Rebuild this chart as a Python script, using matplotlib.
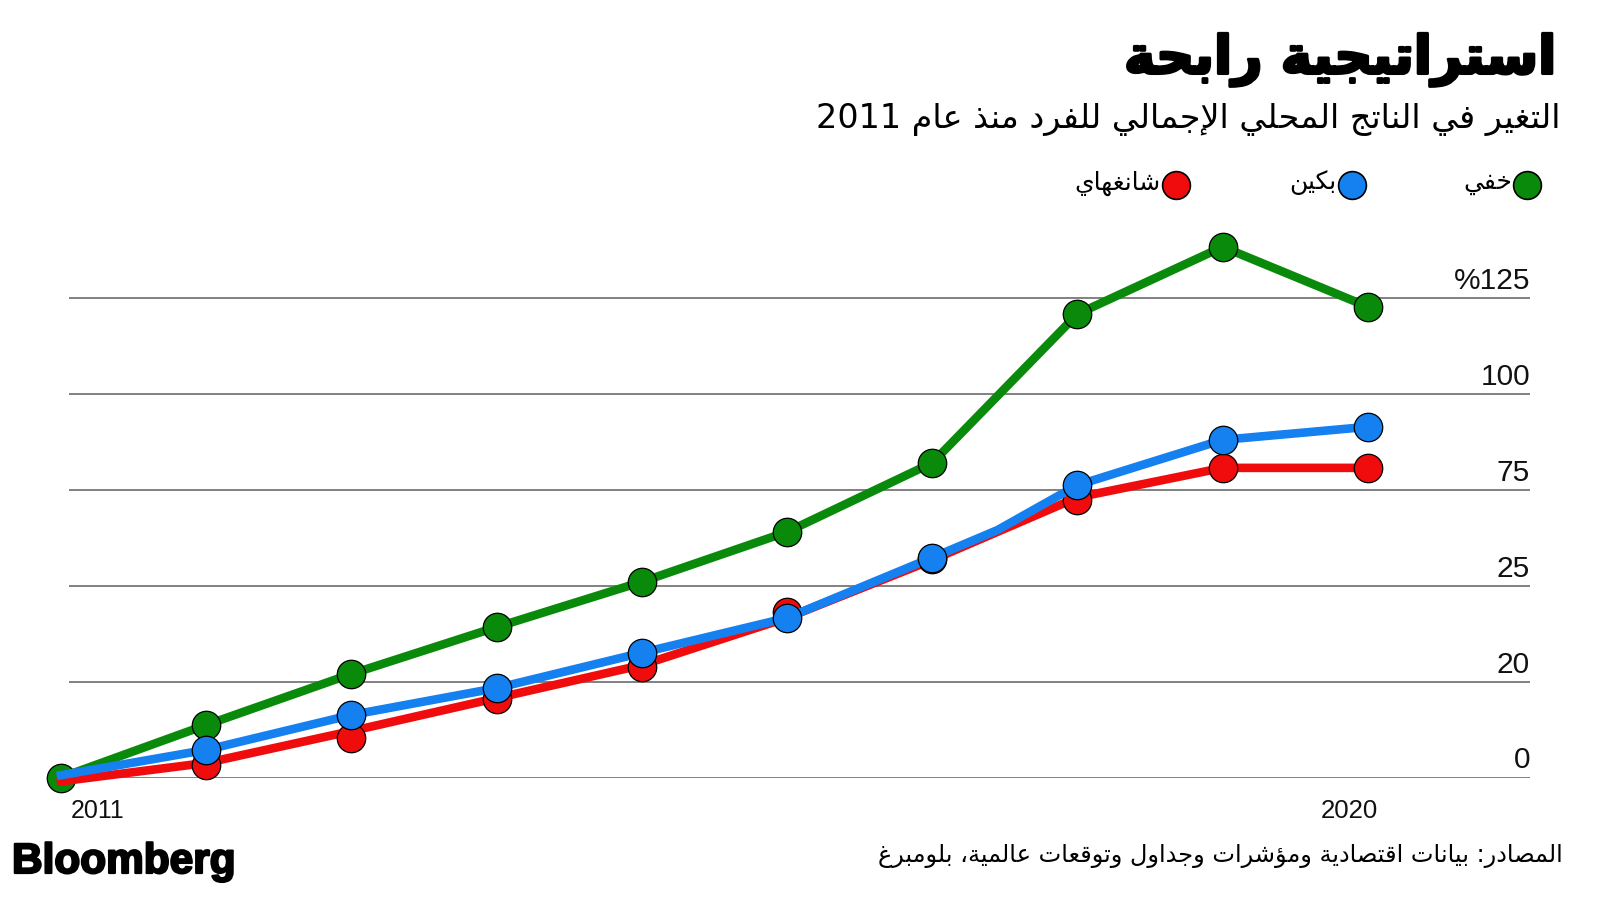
import matplotlib
matplotlib.use("Agg")
import matplotlib.pyplot as plt
import matplotlib.patheffects as pe
from matplotlib.lines import Line2D
from matplotlib.transforms import offset_copy

# data (percent change since 2011)
years = [2011, 2012, 2013, 2014, 2015, 2016, 2017, 2018, 2019, 2020]
hefei = [0, 13.7, 27.0, 39.2, 51.0, 64.0, 82.0, 120.8, 138.3, 122.7]

beijing_line_x = [2011, 2012, 2013, 2014, 2015, 2016, 2017, 2017.45, 2018, 2019, 2020]
beijing_line = [0.6, 7.2, 16.3, 23.3, 32.5, 41.6, 57.3, 64.5, 76.2, 88.0, 91.4]
beijing_dot_x = years[1:]
beijing_dots = [7.2, 16.3, 23.3, 32.5, 41.6, 57.3, 76.2, 88.0, 91.4]

shanghai_line = [-1.0, 3.8, 12.1, 20.7, 29.3, 41.6, 56.7, 73.0, 80.7, 80.7]
shanghai_dot_x = years[1:]
shanghai_dots = [3.3, 10.3, 20.5, 28.8, 43.1, 57.0, 72.3, 80.7, 80.7]

y_ticks = [0, 25, 50, 75, 100, 125]
y_labels = ["0", "20", "25", "75", "100", "%125"]
x_labels = ["2011", "2020"]

title = "استراتيجية رابحة"
subtitle = "التغير في الناتج المحلي الإجمالي للفرد منذ عام 2011"
source = "المصادر: بيانات اقتصادية ومؤشرات وجداول وتوقعات عالمية، بلومبرغ"
legend_labels = ["خفي", "بكين", "شانغهاي"]

GREEN = "#0a8a0a"
BLUE = "#1580f0"
RED = "#f00c0c"


# matplotlib does no arabic shaping, so pick presentation forms by hand
FORMS = {'ء': (0xFE80, 1), 'آ': (0xFE81, 2), 'أ': (0xFE83, 2), 'ؤ': (0xFE85, 2),
         'إ': (0xFE87, 2), 'ئ': (0xFE89, 4), 'ا': (0xFE8D, 2), 'ب': (0xFE8F, 4),
         'ة': (0xFE93, 2), 'ت': (0xFE95, 4), 'ث': (0xFE99, 4), 'ج': (0xFE9D, 4),
         'ح': (0xFEA1, 4), 'خ': (0xFEA5, 4), 'د': (0xFEA9, 2), 'ذ': (0xFEAB, 2),
         'ر': (0xFEAD, 2), 'ز': (0xFEAF, 2), 'س': (0xFEB1, 4), 'ش': (0xFEB5, 4),
         'ص': (0xFEB9, 4), 'ض': (0xFEBD, 4), 'ط': (0xFEC1, 4), 'ظ': (0xFEC5, 4),
         'ع': (0xFEC9, 4), 'غ': (0xFECD, 4), 'ف': (0xFED1, 4), 'ق': (0xFED5, 4),
         'ك': (0xFED9, 4), 'ل': (0xFEDD, 4), 'م': (0xFEE1, 4), 'ن': (0xFEE5, 4),
         'ه': (0xFEE9, 4), 'و': (0xFEED, 2), 'ى': (0xFEEF, 2), 'ي': (0xFEF1, 4)}
LAM_ALEF = {'آ': 0xFEF5, 'أ': 0xFEF7, 'إ': 0xFEF9, 'ا': 0xFEFB}


def shape_word(word):
    items = []
    i = 0
    while i < len(word):
        if word[i] == 'ل' and i + 1 < len(word) and word[i + 1] in LAM_ALEF:
            items.append(('LA', word[i + 1]))
            i += 2
        else:
            items.append((word[i], None))
            i += 1

    def joins_prev(it):
        return it[0] == 'LA' or (it[0] in FORMS and FORMS[it[0]][1] > 1)

    def joins_next(it):
        return it[0] in FORMS and FORMS[it[0]][1] == 4

    out = ""
    for k, it in enumerate(items):
        prev_ok = k > 0 and joins_next(items[k - 1]) and joins_prev(it)
        next_ok = k + 1 < len(items) and joins_next(it) and joins_prev(items[k + 1])
        if it[0] == 'LA':
            out += chr(LAM_ALEF[it[1]] + (1 if prev_ok else 0))
        elif it[0] in FORMS:
            base = FORMS[it[0]][0]
            if prev_ok and next_ok:
                out += chr(base + 3)
            elif prev_ok:
                out += chr(base + 1)
            elif next_ok:
                out += chr(base + 2)
            else:
                out += chr(base)
        else:
            out += it[0]
    return out


def ar(text):
    words = []
    for w in text.split(" ")[::-1]:
        if any(c in FORMS for c in w):
            words.append(shape_word(w)[::-1])
        else:
            words.append(w)
    return " ".join(words)


AR_FONT = ["DejaVu Sans"]
NUM_FONT = ["Liberation Sans", "DejaVu Sans"]

fig = plt.figure(figsize=(16, 9), dpi=100)
W, H = 1600, 900
ax = fig.add_axes([69 / W, 1 - 777.5 / H, 1461 / W, (777.5 - 230) / H])
ax.set_xlim(2011.055, 2021.117)
ax.set_ylim(0, 142.7)

ax.set_yticks(y_ticks)
ax.grid(axis="y", color="#777777", lw=1.3)
ax.set_axisbelow(True)
ax.set_xticks([])
ax.tick_params(axis="y", length=0, labelleft=False)
for s in ax.spines.values():
    s.set_visible(False)

mk = dict(marker="o", ms=20.5, mec="black", mew=0.9, ls="none", clip_on=False)
ax.plot(years, hefei, color=GREEN, lw=6.2, solid_joinstyle="round", clip_on=False, zorder=3)
ax.plot(years, hefei, color=GREEN, zorder=4, **mk)
ax.plot(years, shanghai_line, color=RED, lw=6.2, solid_joinstyle="round", clip_on=False, zorder=5)
ax.plot(shanghai_dot_x, shanghai_dots, color=RED, zorder=6, **mk)
ax.plot(beijing_line_x, beijing_line, color=BLUE, lw=6.2, solid_joinstyle="round", clip_on=False, zorder=7)
ax.plot(beijing_dot_x, beijing_dots, color=BLUE, zorder=8, **mk)

# value labels sit just above their gridlines, at the right end
ytrans = offset_copy(ax.get_yaxis_transform(), fig=fig, x=0, y=9, units="dots")
for v, lab in zip(y_ticks, y_labels):
    ax.text(1.0, v, lab, transform=ytrans, ha="right", va="baseline",
            fontsize=21.5, family=NUM_FONT, color="#111111")

xt_left = offset_copy(ax.get_xaxis_transform(), fig=fig, x=10, y=-40, units="dots")
xt_right = offset_copy(ax.get_xaxis_transform(), fig=fig, x=-18, y=-40, units="dots")
ax.text(years[0], 0, x_labels[0], transform=xt_left, ha="left", va="baseline",
        fontsize=18, family=NUM_FONT, color="#111111")
ax.text(years[-1], 0, x_labels[1], transform=xt_right, ha="center", va="baseline",
        fontsize=18.5, family=NUM_FONT, color="#111111")

# header
fig.text(1556 / W, 1 - 60 / H, ar(title), ha="right", va="center",
         fontsize=38, weight="bold", family=AR_FONT,
         path_effects=[pe.withStroke(linewidth=2.2, foreground="black")])
fig.text(1560 / W, 1 - 119 / H, ar(subtitle), ha="right", va="center",
         fontsize=24, family=AR_FONT)

# legend, drawn by hand (marker on the right of each label)
for i, (lab, col) in enumerate(zip(legend_labels, [GREEN, BLUE, RED])):
    mx = (1527 - 175.5 * i) / W
    fig.add_artist(Line2D([mx], [1 - 185 / H], transform=fig.transFigure, marker="o",
                          ms=20, color=col, mec="black", mew=1.2, ls="none"))
    fig.text(mx - 15 / W, 1 - 183 / H, ar(lab), ha="right", va="center",
             fontsize=18, family=AR_FONT)

# footer
fig.text(12 / W, 1 - 862 / H, "Bloomberg", ha="left", va="center",
         fontsize=30.5, weight="bold", family=NUM_FONT,
         path_effects=[pe.withStroke(linewidth=1.6, foreground="black")])
fig.text(1563 / W, 1 - 856 / H, ar(source), ha="right", va="center",
         fontsize=17.3, family=AR_FONT)

fig.savefig("out.png", dpi=100, facecolor="white")
